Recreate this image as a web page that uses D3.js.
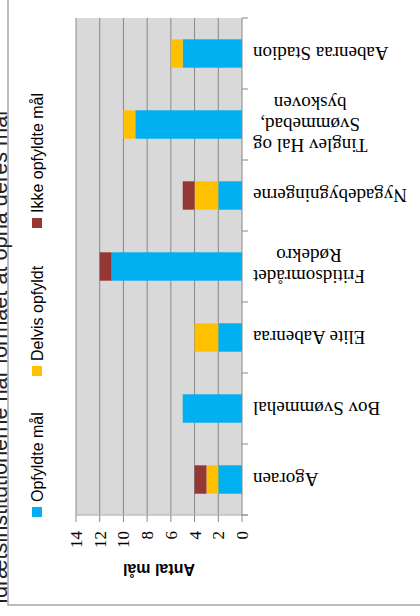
<!DOCTYPE html>
<html>
<head>
<meta charset="utf-8">
<script src="https://cdn.jsdelivr.net/npm/d3@7"></script>
<style>
  body { margin: 0; background: #fff; }
  svg { display: block; }
</style>
</head>
<body>
<script>
var categories = ["Agoraen", "Bov Svømmehal", "Elite Aabenraa", "Fritidsområdet\nRødekro",
                  "Nygadebygningerne", "Tinglev Hal og\nSvømmebad,\nbyskoven", "Aabenraa Stadion"];
var seriesNames = ["Opfyldte mål", "Delvis opfyldt", "Ikke opfyldte mål"];
var opfyldt = [2, 5, 2, 11, 2, 9, 5];
var delvis  = [1, 0, 2, 0, 2, 1, 1];
var ikke    = [1, 0, 0, 1, 1, 0, 0];
var valueTicks = [0, 2, 4, 6, 8, 10, 12, 14];
var title = "Idrætsinstitutionerne har formået at opnå deres mål";
var axisTitle = "Antal mål";

var colors = ["#00b0f0", "#ffc000", "#953735"];

var width = 420, height = 616;

var svg = d3.select("body").append("svg")
    .attr("width", width)
    .attr("height", height);

// the chart is a normal column chart, turned a quarter turn
var g = svg.append("g")
    .attr("transform", "translate(0," + height + ") rotate(-90)");

// outer frame
g.append("rect")
    .attr("x", 11).attr("y", 8)
    .attr("width", 700).attr("height", 500)
    .attr("fill", "#fff")
    .attr("stroke", "#a6a6a6")
    .attr("stroke-width", 1.5);

// title (cut off by the crop)
g.append("text")
    .attr("x", 12).attr("y", 7)
    .attr("font-family", "Liberation Sans, Arial, sans-serif")
    .attr("font-size", 21.7)
    .attr("fill", "#222")
    .text(title);

var x = d3.scaleBand()
    .domain(categories)
    .range([101, 598])
    .paddingInner(0.6)
    .paddingOuter(0.3);

var y = d3.scaleLinear()
    .domain([0, 14])
    .range([242, 76]);

// plot area
g.append("rect")
    .attr("x", 101).attr("y", y(14))
    .attr("width", 497).attr("height", y(0) - y(14))
    .attr("fill", "#d9d9d9");

// gridlines
g.selectAll("line.grid")
    .data(valueTicks.slice(1))
    .enter()
    .append("line")
    .attr("class", "grid")
    .attr("x1", 101).attr("x2", 598)
    .attr("y1", function(d) { return y(d); })
    .attr("y2", function(d) { return y(d); })
    .attr("stroke", "#888")
    .attr("stroke-width", 1);

// stacked bars
var rows = categories.map(function(c, i) {
    return { cat: c, a: opfyldt[i], b: delvis[i], c: ikke[i] };
});
var stack = d3.stack().keys(["a", "b", "c"]);

g.selectAll("g.series")
    .data(stack(rows))
    .enter()
    .append("g")
    .attr("class", "series")
    .attr("fill", function(d, i) { return colors[i]; })
    .selectAll("rect")
    .data(function(d) { return d; })
    .enter()
    .append("rect")
    .attr("x", function(d) { return x(d.data.cat); })
    .attr("width", x.bandwidth())
    .attr("y", function(d) { return y(d[1]); })
    .attr("height", function(d) { return y(d[0]) - y(d[1]); });

// value axis
g.append("line")
    .attr("x1", 101).attr("x2", 101)
    .attr("y1", y(14)).attr("y2", 248)
    .attr("stroke", "#bfbfbf")
    .attr("stroke-width", 1.5);

g.selectAll("line.vtick")
    .data(valueTicks)
    .enter()
    .append("line")
    .attr("class", "vtick")
    .attr("x1", 94).attr("x2", 101)
    .attr("y1", function(d) { return y(d); })
    .attr("y2", function(d) { return y(d); })
    .attr("stroke", "#888");

g.selectAll("text.vlabel")
    .data(valueTicks)
    .enter()
    .append("text")
    .attr("class", "vlabel")
    .attr("x", 85)
    .attr("y", function(d) { return y(d); })
    .attr("dy", "0.35em")
    .attr("text-anchor", "end")
    .attr("font-family", "Liberation Serif, Times New Roman, serif")
    .attr("font-size", 17)
    .text(function(d) { return d; });

g.append("text")
    .attr("transform", "translate(52," + (y(7)) + ") rotate(-90)")
    .attr("text-anchor", "middle")
    .attr("font-family", "Liberation Sans, Arial, sans-serif")
    .attr("font-size", 16)
    .attr("font-weight", "bold")
    .text(axisTitle);

// category axis
g.append("line")
    .attr("x1", 101).attr("x2", 598)
    .attr("y1", y(0)).attr("y2", y(0))
    .attr("stroke", "#888");

var step = x.step();
g.selectAll("line.ctick")
    .data(d3.range(categories.length + 1))
    .enter()
    .append("line")
    .attr("class", "ctick")
    .attr("x1", function(i) { return 101 + i * step; })
    .attr("x2", function(i) { return 101 + i * step; })
    .attr("y1", y(0)).attr("y2", y(0) + 6)
    .attr("stroke", "#888");

var lineH = 21;
var labels = g.selectAll("text.clabel")
    .data(categories)
    .enter()
    .append("text")
    .attr("class", "clabel")
    .attr("transform", function(d) {
        return "translate(" + (x(d) + x.bandwidth() / 2) + "," + (y(0) + 11) + ") rotate(-90)";
    })
    .attr("text-anchor", "middle")
    .attr("font-family", "Liberation Serif, Times New Roman, serif")
    .attr("font-size", 19);

labels.each(function(d) {
    var lines = d.split("\n");
    var t = d3.select(this);
    lines.forEach(function(l, i) {
        t.append("tspan")
            .attr("x", 0)
            .attr("y", (i - (lines.length - 1) / 2) * lineH)
            .attr("dy", "0.35em")
            .text(l);
    });
    // centre the lines within the block, block ends at the axis
    var w = d3.max(t.selectAll("tspan").nodes(), function(n) { return n.getComputedTextLength(); });
    t.selectAll("tspan").attr("x", -w / 2);
});

// legend
var legendX = [99, 240, 388];
seriesNames.forEach(function(name, i) {
    g.append("rect")
        .attr("x", legendX[i]).attr("y", 32)
        .attr("width", 10).attr("height", 10)
        .attr("fill", colors[i]);
    g.append("text")
        .attr("x", legendX[i] + 15).attr("y", 43)
        .attr("font-family", "Liberation Sans, Arial, sans-serif")
        .attr("font-size", 16)
        .text(name);
});
</script>
</body>
</html>
